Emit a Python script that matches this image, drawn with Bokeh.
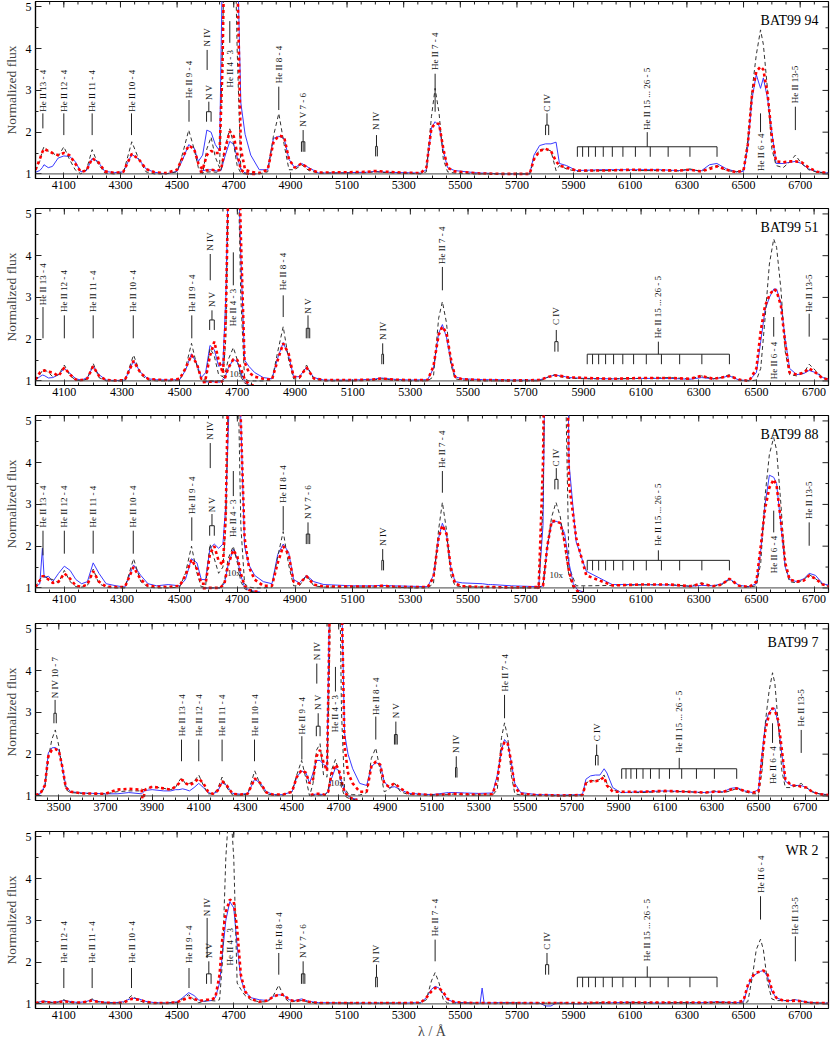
import math
from bokeh.plotting import figure
from bokeh.models import FixedTicker, Span, Label
from bokeh.layouts import column
from bokeh.embed import file_html
from bokeh.resources import INLINE
from bokeh.core.properties import value

FONT = "Liberation Serif"

# ---------------- wavelength grid (Angstrom) ----------------
WL = [4000, 4015, 4024, 4030, 4045, 4060, 4080, 4100, 4120, 4140, 4160, 4180,
      4200, 4220, 4245, 4280, 4310, 4340, 4365, 4390, 4420, 4460, 4500,
      4520, 4541, 4560, 4575, 4590, 4605, 4620, 4635, 4650, 4660, 4672, 4686, 4700, 4712, 4725, 4740, 4760,
      4790, 4820, 4840, 4859, 4878, 4895, 4915, 4940, 4965, 5000,
      5100, 5170, 5200, 5240, 5300, 5360, 5380, 5398, 5411, 5425, 5440, 5455, 5480,
      5550, 5570, 5577, 5584, 5650, 5745, 5760, 5780, 5801, 5820, 5838, 5850, 5875, 5910,
      6000, 6100, 6200, 6270, 6310, 6350, 6380, 6406, 6440, 6475, 6500,
      6515, 6530, 6545, 6560, 6570, 6585, 6600, 6615, 6640, 6665, 6683, 6705, 6730, 6760, 6800]
WL_UV = [3400, 3420, 3440, 3455, 3470, 3485, 3500, 3515, 3530, 3550,
         3600, 3700, 3750, 3800, 3855, 3860, 3870, 3900, 3950, 3980]

# ---------------- BAT99 94 ----------------
P1_OBS = [1.04, 1.08, 1.15, 1.22, 1.15, 1.18, 1.38, 1.43, 1.42, 1.30, 1.05, 1.08,
          1.37, 1.30, 1.06, 1.03, 1.05, 1.47, 1.35, 1.12, 1.04, 1.00, 1.06,
          1.35, 1.70, 1.62, 1.30, 1.45, 2.05, 2.00, 1.70, 1.55, 6.0, 9.0, 10.0, 9.0, 6.5, 2.7, 1.95, 1.45,
          1.10, 1.10, 1.85, 1.90, 1.85, 1.35, 1.15, 1.25, 1.15, 1.02,
          1.03, 1.04, 1.06, 1.04, 1.03, 1.02, 1.10, 2.10, 2.25, 2.15, 1.55, 1.15, 1.08,
          1.03, 1.02, 1.02, 1.02, 1.00, 1.00, 1.45, 1.68, 1.72, 1.72, 1.76, 1.25, 1.20, 1.08,
          1.10, 1.10, 1.10, 1.08, 1.10, 1.07, 1.22, 1.25, 1.12, 1.05, 1.06,
          1.65, 2.80, 3.38, 3.05, 3.30, 2.80, 2.00, 1.25, 1.25, 1.28, 1.30, 1.25, 1.12, 1.05, 1.02]
P1_MOD = [1.08, 1.30, 1.55, 1.65, 1.55, 1.50, 1.42, 1.65, 1.35, 1.10, 1.00, 1.10,
          1.58, 1.25, 1.02, 1.00, 1.02, 1.77, 1.35, 1.05, 1.00, 1.00, 1.05,
          1.50, 2.05, 1.60, 1.15, 1.00, 1.60, 1.88, 1.40, 1.15, 4.0, 8.0, 11.0, 8.0, 4.0, 1.10, 1.02, 1.00,
          1.00, 1.05, 1.90, 2.45, 1.70, 1.10, 1.10, 1.22, 1.08, 1.02,
          1.02, 1.03, 1.05, 1.03, 1.02, 1.00, 1.05, 2.37, 3.05, 2.45, 1.35, 1.05, 1.02,
          1.00, 1.00, 1.00, 1.00, 1.00, 1.00, 1.35, 1.58, 1.60, 1.55, 1.08, 1.20, 1.12, 1.06,
          1.08, 1.08, 1.08, 1.07, 1.12, 1.06, 1.15, 1.20, 1.08, 1.05, 1.10,
          1.80, 3.00, 3.85, 4.45, 4.10, 3.00, 1.60, 1.20, 1.15, 1.30, 1.45, 1.25, 1.10, 1.04, 1.02]
P1_MOD2 = [1.10, 1.35, 1.52, 1.60, 1.55, 1.50, 1.45, 1.50, 1.45, 1.25, 1.05, 1.08,
           1.37, 1.30, 1.06, 1.02, 1.05, 1.48, 1.35, 1.12, 1.04, 1.02, 1.10,
           1.40, 1.68, 1.60, 1.25, 1.10, 1.45, 1.55, 1.50, 1.50, 3.5, 8.5, 11.0, 9.5, 6.0, 1.60, 1.10, 1.05,
           1.02, 1.10, 1.75, 1.92, 1.88, 1.35, 1.15, 1.25, 1.12, 1.03,
           1.04, 1.05, 1.07, 1.05, 1.03, 1.02, 1.15, 2.10, 2.20, 2.20, 1.60, 1.15, 1.06,
           1.02, 1.01, 1.01, 1.01, 1.00, 1.00, 1.35, 1.55, 1.60, 1.55, 1.30, 1.20, 1.15, 1.08,
           1.08, 1.10, 1.09, 1.08, 1.10, 1.06, 1.12, 1.18, 1.10, 1.04, 1.08,
           1.70, 2.90, 3.45, 3.57, 3.50, 2.90, 1.90, 1.30, 1.28, 1.30, 1.30, 1.28, 1.15, 1.05, 1.02]

# ---------------- BAT99 51 ----------------
P2_OBS = [1.02, 1.10, 1.14, 1.13, 1.07, 1.08, 1.15, 1.30, 1.18, 1.05, 1.02, 1.08,
          1.35, 1.15, 1.02, 1.01, 1.02, 1.48, 1.20, 1.05, 1.03, 1.02, 1.03,
          1.25, 1.65, 1.40, 1.08, 1.20, 1.85, 1.75, 1.35, 1.40, 3.0, 7.0, 9.0, 7.0, 4.0, 1.50, 1.35, 1.20,
          1.08, 1.05, 1.55, 1.92, 1.60, 1.10, 1.10, 1.33, 1.08, 1.02,
          1.02, 1.04, 1.07, 1.04, 1.02, 1.03, 1.30, 2.14, 2.35, 2.05, 1.50, 1.10, 1.05,
          1.03, 1.03, 1.03, 1.03, 1.02, 1.02, 1.05, 1.10, 1.14, 1.12, 1.10, 1.08, 1.07, 1.06,
          1.05, 1.06, 1.06, 1.04, 1.08, 1.05, 1.08, 1.12, 1.02, 1.01, 1.20,
          1.95, 2.70, 3.00, 3.20, 3.20, 2.85, 2.00, 1.30, 1.15, 1.18, 1.25, 1.20, 1.08, 1.02, 1.02]
P2_MOD = [1.02, 1.15, 1.25, 1.28, 1.20, 1.10, 1.15, 1.38, 1.12, 1.02, 1.00, 1.05,
          1.42, 1.08, 1.00, 1.00, 1.00, 1.62, 1.15, 1.02, 1.00, 1.00, 1.02,
          1.30, 1.90, 1.35, 1.02, 1.05, 1.78, 1.60, 1.15, 1.10, 2.0, 7.0, 11.0, 7.0, 3.0, 1.05, 1.00, 1.00,
          1.00, 1.02, 1.70, 2.30, 1.50, 1.05, 1.05, 1.38, 1.05, 1.00,
          1.00, 1.02, 1.05, 1.02, 1.00, 1.00, 1.10, 2.50, 2.90, 2.40, 1.40, 1.05, 1.02,
          1.00, 1.00, 1.00, 1.00, 1.00, 1.00, 1.03, 1.10, 1.15, 1.10, 1.08, 1.06, 1.06, 1.05,
          1.05, 1.06, 1.08, 1.05, 1.12, 1.05, 1.08, 1.15, 1.02, 1.00, 1.02,
          1.30, 2.50, 3.80, 4.40, 4.20, 3.20, 1.70, 1.15, 1.12, 1.20, 1.40, 1.25, 1.08, 1.02, 1.02]
P2_MOD2 = [1.03, 1.20, 1.24, 1.25, 1.22, 1.20, 1.12, 1.32, 1.15, 1.03, 1.02, 1.06,
           1.35, 1.12, 1.02, 1.01, 1.02, 1.48, 1.18, 1.05, 1.03, 1.02, 1.05,
           1.30, 1.62, 1.40, 1.05, 1.05, 1.60, 1.94, 1.50, 1.18, 2.5, 7.0, 10.0, 8.0, 4.5, 1.45, 1.20, 1.10,
           1.05, 1.03, 1.50, 1.90, 1.65, 1.10, 1.08, 1.32, 1.06, 1.02,
           1.02, 1.03, 1.06, 1.03, 1.02, 1.02, 1.35, 2.10, 2.30, 2.15, 1.55, 1.10, 1.04,
           1.02, 1.02, 1.02, 1.02, 1.01, 1.02, 1.05, 1.10, 1.13, 1.12, 1.10, 1.08, 1.08, 1.07,
           1.05, 1.07, 1.07, 1.05, 1.12, 1.05, 1.08, 1.12, 1.03, 1.00, 1.30,
           2.20, 2.80, 3.05, 3.20, 3.15, 2.80, 1.90, 1.20, 1.15, 1.20, 1.30, 1.20, 1.06, 1.02, 1.02]

# ---------------- BAT99 88 ----------------
P3_OBS = [1.02, 1.10, 1.95, 1.25, 1.28, 1.15, 1.35, 1.52, 1.42, 1.20, 1.10, 1.15,
          1.60, 1.35, 1.10, 1.05, 1.02, 1.55, 1.30, 1.10, 1.05, 1.08, 1.05,
          1.20, 1.70, 1.60, 1.20, 1.20, 1.95, 2.05, 1.95, 2.05, 3.0, 5.5, 9.0, 8.0, 5.0, 2.00, 1.55, 1.30,
          1.15, 1.10, 1.80, 2.05, 1.85, 1.20, 1.12, 1.30, 1.15, 1.08,
          1.05, 1.05, 1.06, 1.05, 1.04, 1.03, 1.30, 2.20, 2.55, 2.30, 1.50, 1.15, 1.12,
          1.10, 1.08, 1.08, 1.08, 1.05, 1.03, 2.50, 14.0, 17.0, 16.0, 12.0, 4.00, 2.10, 1.40,
          1.08, 1.08, 1.07, 1.04, 1.06, 1.05, 1.10, 1.22, 1.06, 1.03, 1.10,
          1.90, 3.00, 3.70, 3.65, 3.50, 2.50, 1.50, 1.20, 1.15, 1.22, 1.35, 1.30, 1.10, 1.05, 1.05]
P3_MOD = [1.02, 1.20, 1.28, 1.28, 1.22, 1.20, 1.12, 1.42, 1.15, 1.03, 1.02, 1.05,
          1.45, 1.10, 1.02, 1.00, 1.00, 1.70, 1.15, 1.02, 1.00, 1.00, 1.02,
          1.35, 2.00, 1.35, 1.02, 1.05, 2.05, 1.70, 1.35, 1.50, 2.5, 7.0, 11.0, 7.0, 2.5, 1.10, 1.02, 1.00,
          1.00, 1.02, 1.75, 2.35, 1.55, 1.05, 1.05, 1.30, 1.05, 1.02,
          1.02, 1.02, 1.04, 1.02, 1.00, 1.00, 1.10, 2.40, 3.05, 2.40, 1.30, 1.05, 1.03,
          1.02, 1.02, 1.02, 1.02, 1.00, 1.00, 3.00, 14.0, 20.0, 16.0, 6.0, 1.50, 1.05, 1.05,
          1.06, 1.07, 1.08, 1.04, 1.12, 1.04, 1.08, 1.20, 1.05, 1.02, 1.05,
          1.60, 3.20, 4.20, 4.60, 4.30, 3.00, 1.50, 1.15, 1.12, 1.20, 1.32, 1.22, 1.08, 1.02, 1.02]
P3_MOD2 = [1.02, 1.18, 1.28, 1.28, 1.20, 1.12, 1.15, 1.35, 1.22, 1.05, 1.03, 1.08,
           1.40, 1.15, 1.03, 1.02, 1.02, 1.50, 1.20, 1.05, 1.03, 1.02, 1.05,
           1.30, 1.68, 1.45, 1.10, 1.10, 1.82, 2.00, 1.65, 1.55, 2.8, 7.5, 10.5, 8.5, 5.0, 2.20, 1.50, 1.20,
           1.05, 1.05, 1.60, 2.00, 1.80, 1.15, 1.10, 1.28, 1.08, 1.03,
           1.03, 1.03, 1.05, 1.03, 1.02, 1.02, 1.25, 2.20, 2.50, 2.30, 1.50, 1.10, 1.04,
           1.02, 1.02, 1.02, 1.02, 1.01, 1.02, 4.00, 15.0, 17.0, 16.0, 10.0, 3.50, 2.20, 1.30,
           1.06, 1.08, 1.08, 1.04, 1.10, 1.04, 1.08, 1.22, 1.05, 1.02, 1.15,
           2.00, 2.90, 3.40, 3.60, 3.45, 2.60, 1.60, 1.20, 1.15, 1.18, 1.30, 1.22, 1.08, 1.03, 1.03]

# ---------------- BAT99 7 (extends into the near UV) ----------------
P4_OBS_UV = [1.04, 1.05, 1.24, 2.03, 2.15, 2.16, 2.10, 1.71, 1.24, 1.10,
             1.07, 1.05, 1.05, 1.08, 1.05, 1.08, 1.13, 1.15, 1.12, 1.12]
P4_MOD_UV = [1.02, 1.04, 1.20, 1.90, 2.35, 2.58, 2.20, 1.60, 1.15, 1.08,
             1.06, 1.05, 1.10, 1.12, 1.12, 1.15, 1.15, 1.22, 1.18, 1.15]
P4_MOD2_UV = [1.02, 1.05, 1.25, 1.95, 2.10, 2.12, 2.08, 1.70, 1.20, 1.10,
              1.06, 1.05, 1.15, 1.17, 1.15, 0.85, 1.15, 1.22, 1.18, 1.15]
P4_OBS = [1.15, 1.15, 1.16, 1.17, 1.15, 1.12, 1.20, 1.30, 1.20, 1.08, 1.05, 1.10,
          1.32, 1.25, 1.06, 1.04, 1.06, 1.40, 1.30, 1.10, 1.03, 1.03, 1.10,
          1.45, 1.60, 1.55, 1.30, 1.55, 1.85, 1.85, 1.75, 1.70, 5.5, 9.0, 10.0, 9.0, 6.0, 2.50, 2.00, 1.65,
          1.30, 1.25, 1.70, 1.80, 1.75, 1.35, 1.20, 1.22, 1.15, 1.06,
          1.03, 1.08, 1.08, 1.07, 1.06, 1.07, 1.50, 2.10, 2.35, 2.25, 1.80, 1.30, 1.08,
          1.03, 1.03, 1.03, 1.03, 1.02, 1.03, 1.40, 1.48, 1.50, 1.50, 1.65, 1.55, 1.20, 1.08,
          1.10, 1.12, 1.10, 1.08, 1.10, 1.10, 1.18, 1.20, 1.12, 1.08, 1.15,
          2.00, 2.75, 3.00, 3.10, 3.10, 2.70, 2.00, 1.35, 1.25, 1.25, 1.25, 1.20, 1.10, 1.05, 1.03]
P4_MOD = [1.20, 1.35, 1.42, 1.40, 1.28, 1.30, 1.35, 1.50, 1.25, 1.05, 1.05, 1.15,
          1.45, 1.20, 1.02, 1.02, 1.05, 1.60, 1.25, 1.05, 1.02, 1.02, 1.10,
          1.50, 1.85, 1.40, 1.00, 1.30, 2.10, 2.25, 1.50, 1.45, 4.0, 9.0, 12.0, 8.0, 3.0, 1.20, 1.05, 1.03,
          1.02, 1.08, 1.90, 2.15, 1.60, 1.10, 1.15, 1.30, 1.10, 1.03,
          1.02, 1.03, 1.05, 1.03, 1.02, 1.02, 1.15, 2.40, 2.75, 2.40, 1.50, 1.05, 1.02,
          1.01, 1.01, 1.01, 1.01, 1.00, 1.02, 1.30, 1.38, 1.35, 1.40, 1.50, 1.30, 1.15, 1.08,
          1.08, 1.10, 1.10, 1.07, 1.12, 1.08, 1.12, 1.18, 1.10, 1.05, 1.05,
          1.60, 2.80, 3.50, 3.95, 3.70, 2.70, 1.60, 1.20, 1.20, 1.25, 1.30, 1.20, 1.10, 1.05, 1.02]
P4_MOD2 = [1.22, 1.30, 1.38, 1.38, 1.30, 1.25, 1.32, 1.42, 1.30, 1.10, 1.05, 1.12,
           1.35, 1.25, 1.05, 1.03, 1.05, 1.42, 1.30, 1.08, 1.03, 1.03, 1.10,
           1.45, 1.62, 1.55, 1.30, 1.40, 1.95, 2.10, 1.80, 1.60, 5.0, 9.0, 11.0, 9.0, 6.0, 2.20, 1.55, 1.30,
           1.10, 1.10, 1.70, 1.82, 1.75, 1.30, 1.22, 1.30, 1.18, 1.06,
           1.02, 1.04, 1.05, 1.04, 1.03, 1.04, 1.40, 2.10, 2.30, 2.25, 1.80, 1.20, 1.05,
           1.02, 1.02, 1.02, 1.02, 1.01, 1.02, 1.30, 1.35, 1.35, 1.38, 1.45, 1.25, 1.10, 1.10,
           1.10, 1.12, 1.10, 1.08, 1.10, 1.10, 1.15, 1.18, 1.12, 1.08, 1.10,
           1.90, 2.60, 2.95, 3.10, 3.05, 2.80, 2.10, 1.40, 1.25, 1.25, 1.22, 1.20, 1.10, 1.04, 1.02]

# ---------------- WR 2 ----------------
P5_OBS = [1.03, 1.05, 1.06, 1.07, 1.05, 1.04, 1.05, 1.08, 1.06, 1.04, 1.04, 1.06,
          1.10, 1.06, 1.04, 1.03, 1.05, 1.14, 1.12, 1.06, 1.03, 1.02, 1.05,
          1.15, 1.27, 1.20, 1.10, 1.06, 1.07, 1.08, 1.15, 1.50, 2.20, 3.00, 3.45, 3.30, 2.40, 1.60, 1.30, 1.15,
          1.10, 1.08, 1.18, 1.22, 1.20, 1.10, 1.08, 1.12, 1.06, 1.03,
          1.02, 1.02, 1.02, 1.02, 1.02, 1.03, 1.15, 1.35, 1.42, 1.38, 1.25, 1.10, 1.04,
          1.02, 1.02, 1.38, 1.02, 1.03, 1.02, 1.02, 1.02, 0.95, 0.95, 1.02, 1.02, 1.02, 1.00,
          1.02, 1.04, 1.02, 1.03, 1.03, 1.03, 1.04, 1.05, 1.04, 1.03, 1.05,
          1.40, 1.65, 1.72, 1.78, 1.80, 1.65, 1.30, 1.15, 1.08, 1.08, 1.10, 1.07, 1.04, 1.02, 1.02]
P5_MOD = [1.02, 1.04, 1.05, 1.05, 1.04, 1.03, 1.04, 1.10, 1.04, 1.02, 1.02, 1.05,
          1.12, 1.05, 1.02, 1.02, 1.03, 1.20, 1.08, 1.02, 1.02, 1.02, 1.03,
          1.12, 1.22, 1.10, 1.03, 1.05, 1.08, 1.08, 1.07, 1.10, 2.00, 4.50, 6.00, 4.50, 1.50, 1.35, 1.20, 1.10,
          1.05, 1.05, 1.20, 1.45, 1.15, 1.05, 1.06, 1.08, 1.04, 1.02,
          1.02, 1.02, 1.02, 1.02, 1.02, 1.02, 1.10, 1.55, 1.75, 1.50, 1.10, 1.02, 1.02,
          1.02, 1.02, 1.02, 1.02, 1.02, 1.02, 1.02, 1.02, 1.02, 1.02, 1.02, 1.02, 1.02, 1.02,
          1.03, 1.03, 1.03, 1.03, 1.03, 1.03, 1.03, 1.03, 1.03, 1.02, 1.02,
          1.05, 1.60, 2.30, 2.55, 2.30, 1.50, 1.12, 1.08, 1.08, 1.08, 1.10, 1.06, 1.03, 1.02, 1.02]
P5_MOD2 = [1.02, 1.04, 1.05, 1.05, 1.04, 1.03, 1.04, 1.06, 1.05, 1.03, 1.03, 1.05,
           1.08, 1.05, 1.03, 1.02, 1.03, 1.12, 1.10, 1.05, 1.02, 1.02, 1.04,
           1.10, 1.15, 1.12, 1.08, 1.08, 1.10, 1.10, 1.15, 1.70, 2.60, 3.20, 3.50, 3.45, 2.80, 1.70, 1.30, 1.12,
           1.05, 1.08, 1.18, 1.22, 1.22, 1.10, 1.06, 1.10, 1.05, 1.02,
           1.02, 1.02, 1.02, 1.02, 1.02, 1.03, 1.15, 1.30, 1.38, 1.38, 1.28, 1.12, 1.04,
           1.02, 1.02, 1.02, 1.02, 1.02, 1.02, 1.02, 1.02, 1.02, 1.02, 1.02, 1.02, 1.02, 1.02,
           1.03, 1.03, 1.03, 1.03, 1.03, 1.03, 1.03, 1.04, 1.03, 1.03, 1.08,
           1.45, 1.65, 1.75, 1.78, 1.80, 1.70, 1.35, 1.15, 1.08, 1.07, 1.08, 1.06, 1.03, 1.02, 1.02]

# ---------------- strong lines scaled down by 10 ("10x") ----------------
TEN_WL = [4580, 4600, 4620, 4640, 4655, 4668, 4686, 4700, 4712, 4725, 4740, 4760, 4780]
P1_TEN_OBS = [1.06, 1.09, 1.10, 1.07, 1.08, 1.40, 1.78, 1.70, 1.40, 1.12, 1.02, 1.00, 1.00]
P1_TEN_MOD = [1.02, 1.04, 1.05, 1.04, 1.10, 1.60, 2.08, 1.70, 1.20, 1.02, 1.00, 1.00, 1.00]
P1_TEN_MOD2 = [1.05, 1.08, 1.10, 1.08, 1.10, 1.55, 2.02, 1.90, 1.50, 1.10, 1.02, 1.00, 1.00]
P2_TEN_OBS = [0.97, 0.98, 0.98, 0.97, 1.05, 1.30, 1.52, 1.45, 1.20, 1.00, 0.90, 0.86, 0.86]
P2_TEN_MOD = [0.99, 1.00, 1.00, 1.00, 1.10, 1.50, 1.80, 1.50, 1.10, 0.95, 0.90, 0.88, 0.86]
P2_TEN_MOD2 = [0.97, 0.98, 0.98, 0.97, 1.02, 1.30, 1.52, 1.50, 1.30, 1.05, 0.92, 0.88, 0.86]
P3_TEN_OBS = [0.98, 1.00, 1.00, 1.00, 1.10, 1.55, 1.93, 1.70, 1.30, 1.02, 0.95, 0.92, 0.90]
P3_TEN_MOD = [1.00, 1.00, 1.00, 1.00, 1.15, 1.70, 2.00, 1.60, 1.15, 0.98, 0.93, 0.90, 0.88]
P3_TEN_MOD2 = [0.99, 1.00, 1.00, 1.00, 1.10, 1.55, 1.91, 1.75, 1.35, 1.05, 0.95, 0.92, 0.90]
P4_TEN_OBS = [1.03, 1.04, 1.04, 1.03, 1.10, 1.40, 1.67, 1.60, 1.35, 1.12, 1.00, 0.94, 0.92]
P4_TEN_MOD = [1.00, 1.02, 1.02, 1.00, 1.15, 1.60, 1.87, 1.60, 1.20, 1.00, 0.95, 0.92, 0.90]
P4_TEN_MOD2 = [1.02, 1.05, 1.05, 1.03, 1.10, 1.50, 1.75, 1.65, 1.35, 1.10, 0.98, 0.93, 0.90]
CIV_TEN_WL = [5740, 5760, 5775, 5790, 5805, 5820, 5835, 5850, 5865, 5880, 5900]
P3_CIV_OBS = [1.00, 1.05, 2.00, 2.55, 2.60, 2.55, 2.30, 1.60, 1.10, 0.95, 0.90]
P3_CIV_MOD = [1.00, 1.05, 2.00, 2.70, 3.05, 2.70, 2.00, 1.30, 1.00, 0.90, 0.88]
P3_CIV_MOD2 = [1.00, 1.05, 2.00, 2.60, 2.60, 2.55, 2.10, 1.40, 1.05, 0.92, 0.88]

# ---------------- line identifications ----------------
PICKERING = [5913.3, 5931.8, 5952.9, 5977.0, 6004.7, 6036.7, 6074.1, 6118.2,
             6170.6, 6233.8, 6310.8, 6406.4]
FORK_PRONGS = {4612: [4604, 4620], 4945: [4939, 4945, 4951], 5204: [5201, 5207],
               5806: [5801, 5812], 3484: [3479, 3489]}
SERIES = "He II 15 ... 26 - 5"

# (text, wavelength, kind, marker bottom, marker top, text anchor)
P1_LABELS = [("He II 13 - 4", 4026, "up", 2.09, 2.45, 2.49), ("He II 12 - 4", 4100, "up", 1.93, 2.45, 2.49),
             ("He II 11 - 4", 4200, "up", 1.93, 2.45, 2.49), ("He II 10 - 4", 4339, "up", 1.93, 2.45, 2.49),
             ("He II 9 - 4", 4542, "up", 2.25, 2.77, 2.81), ("N V", 4612, "fork", 2.25, 2.73, 2.77),
             ("N IV", 4606, "up", 3.49, 3.97, 4.05), ("He II 4 - 3", 4686, "down", 4.14, 4.66, 3.97),
             ("He II 8 - 4", 4859, "up", 2.53, 3.09, 3.17), ("N V 7 - 6", 4945, "fork", 1.53, 2.05, 2.13),
             ("N IV", 5204, "fork", 1.42, 1.93, 2.05), ("He II 7 - 4", 5411, "up", 2.49, 3.40, 3.49),
             ("C IV", 5806, "fork", 1.93, 2.45, 2.49), (SERIES, 6160, "series", 1.41, 2.00, 2.05),
             ("He II 6 - 4", 6560, "down", 2.00, 2.45, 1.97), ("He II 13-5", 6683, "up", 2.05, 2.61, 2.69)]
P2_LABELS = [("He II 13 - 4", 4026, "up", 2.02, 2.77, 2.81), ("He II 12 - 4", 4100, "up", 2.02, 2.57, 2.65),
             ("He II 11 - 4", 4200, "up", 2.02, 2.57, 2.65), ("He II 10 - 4", 4339, "up", 2.02, 2.57, 2.65),
             ("He II 9 - 4", 4542, "up", 2.02, 2.57, 2.65), ("N V", 4612, "fork", 2.22, 2.69, 2.77),
             ("N IV", 4606, "up", 3.41, 4.04, 4.12), ("He II 4 - 3", 4686, "down", 3.29, 4.08, 3.21),
             ("He II 8 - 4", 4859, "up", 2.53, 3.05, 3.17), ("N V", 4945, "fork", 2.02, 2.57, 2.61),
             ("N IV", 5204, "fork", 1.40, 1.90, 1.98), ("He II 7 - 4", 5411, "up", 3.17, 3.73, 3.80),
             ("C IV", 5806, "fork", 1.70, 2.22, 2.34), (SERIES, 6160, "series", 1.40, 1.94, 2.02),
             ("He II 6 - 4", 6560, "down", 2.06, 2.53, 1.94), ("He II 13-5", 6683, "up", 2.06, 2.61, 2.65)]
P3_LABELS = [("He II 13 - 4", 4026, "up", 1.78, 2.37, 2.45), ("He II 12 - 4", 4100, "up", 1.82, 2.37, 2.45),
             ("He II 11 - 4", 4200, "up", 1.82, 2.37, 2.45), ("He II 10 - 4", 4339, "up", 1.82, 2.37, 2.45),
             ("He II 9 - 4", 4542, "up", 2.13, 2.69, 2.77), ("N V", 4612, "fork", 2.25, 2.77, 2.81),
             ("N IV", 4606, "up", 3.87, 4.47, 4.55), ("He II 4 - 3", 4686, "down", 3.20, 3.80, 3.12),
             ("He II 8 - 4", 4859, "up", 2.37, 2.96, 3.04), ("N V 7 - 6", 4945, "fork", 2.05, 2.57, 2.65),
             ("N IV", 5204, "fork", 1.42, 1.93, 2.01), ("He II 7 - 4", 5411, "up", 3.28, 3.80, 3.87),
             ("C IV", 5806, "fork", 3.36, 3.87, 3.91), (SERIES, 6160, "series", 1.42, 1.90, 2.01),
             ("He II 6 - 4", 6560, "down", 2.33, 2.85, 2.25), ("He II 13-5", 6683, "up", 2.01, 2.57, 2.65)]
P4_LABELS = [("N IV 10 - 7", 3484, "fork", 2.74, 3.30, 3.34),
             ("He II 13 - 4", 4026, "up", 1.83, 2.35, 2.43), ("He II 12 - 4", 4100, "up", 1.83, 2.35, 2.43),
             ("He II 11 - 4", 4200, "up", 1.83, 2.35, 2.43), ("He II 10 - 4", 4339, "up", 1.83, 2.35, 2.43),
             ("He II 9 - 4", 4542, "up", 1.87, 2.43, 2.47), ("N V", 4612, "fork", 2.43, 2.98, 3.06),
             ("N IV", 4606, "up", 3.69, 4.17, 4.25), ("He II 4 - 3", 4686, "down", 3.50, 4.09, 3.42),
             ("He II 8 - 4", 4859, "up", 2.35, 2.90, 2.94), ("N V", 4945, "fork", 2.23, 2.78, 2.86),
             ("N IV", 5204, "fork", 1.44, 1.95, 2.03), ("He II 7 - 4", 5411, "up", 2.86, 3.42, 3.50),
             ("C IV", 5806, "fork", 1.73, 2.23, 2.31), (SERIES, 6160, "series", 1.41, 1.91, 2.03),
             ("He II 6 - 4", 6560, "down", 2.27, 2.74, 2.19), ("He II 13-5", 6683, "up", 2.03, 2.58, 2.66)]
P5_LABELS = [("He II 12 - 4", 4100, "up", 1.38, 1.86, 1.98), ("He II 11 - 4", 4200, "up", 1.38, 1.86, 1.98),
             ("He II 10 - 4", 4339, "up", 1.38, 1.86, 1.98), ("He II 9 - 4", 4542, "up", 1.38, 1.86, 1.98),
             ("N V", 4612, "fork", 1.48, 2.02, 2.10), ("N IV", 4606, "up", 2.10, 3.06, 3.10),
             ("He II 4 - 3", 4686, "down", 2.90, 2.90, 2.82), ("He II 8 - 4", 4859, "up", 1.70, 2.22, 2.30),
             ("N V 7 - 6", 4945, "fork", 1.48, 2.02, 2.10), ("N IV", 5204, "fork", 1.40, 1.94, 1.98),
             ("He II 7 - 4", 5411, "up", 2.02, 2.54, 2.62), ("C IV", 5806, "fork", 1.70, 2.22, 2.30),
             (SERIES, 6160, "series", 1.40, 1.90, 2.02), ("He II 6 - 4", 6560, "up", 3.02, 3.58, 3.66),
             ("He II 13-5", 6683, "up", 2.02, 2.62, 2.66)]

TICKS_4000 = list(range(4100, 6701, 200))
TICKS_3400 = list(range(3500, 6701, 200))
Y_TICKS = [1, 2, 3, 4, 5]
Y_MINOR = [1.5, 2.5, 3.5, 4.5]

PANELS = [
    dict(name="BAT99 94", wl=WL, obs=P1_OBS, mod=P1_MOD, mod2=P1_MOD2, xr=(4000, 6800), ticks=TICKS_4000,
         tenx=[(TEN_WL, P1_TEN_OBS, P1_TEN_MOD, P1_TEN_MOD2)], tenx_text=[], labels=P1_LABELS),
    dict(name="BAT99 51", wl=WL, obs=P2_OBS, mod=P2_MOD, mod2=P2_MOD2, xr=(4000, 6750), ticks=TICKS_4000,
         tenx=[(TEN_WL, P2_TEN_OBS, P2_TEN_MOD, P2_TEN_MOD2)], tenx_text=[(4696, 1.17)], labels=P2_LABELS),
    dict(name="BAT99 88", wl=WL, obs=P3_OBS, mod=P3_MOD, mod2=P3_MOD2, xr=(4000, 6750), ticks=TICKS_4000,
         tenx=[(TEN_WL, P3_TEN_OBS, P3_TEN_MOD, P3_TEN_MOD2), (CIV_TEN_WL, P3_CIV_OBS, P3_CIV_MOD, P3_CIV_MOD2)],
         tenx_text=[(4688, 1.36), (5806, 1.30)], labels=P3_LABELS),
    dict(name="BAT99 7", wl=WL_UV + WL, obs=P4_OBS_UV + P4_OBS, mod=P4_MOD_UV + P4_MOD, mod2=P4_MOD2_UV + P4_MOD2,
         xr=(3400, 6800), ticks=TICKS_3400,
         tenx=[(TEN_WL, P4_TEN_OBS, P4_TEN_MOD, P4_TEN_MOD2)], tenx_text=[(4693, 1.30)], labels=P4_LABELS),
    dict(name="WR 2", wl=WL, obs=P5_OBS, mod=P5_MOD, mod2=P5_MOD2, xr=(4000, 6800), ticks=TICKS_4000,
         tenx=[], tenx_text=[], labels=P5_LABELS),
]

for i, cfg in enumerate(PANELS):
    for key in ("obs", "mod", "mod2"):
        if len(cfg[key]) != len(cfg["wl"]):
            raise ValueError("panel %d %s: %d values for %d wavelengths" % (i + 1, key, len(cfg[key]), len(cfg["wl"])))

BLUE = "#3a3aff"
DASH = "#333333"
RED = "#ff0000"
YR = (0.89, 5.13)
FRAME_W = 795
FRAME_H = 177
BOTTOMS = [29, 29, 30, 30, 36]
TICK_COLOR = "#222222"


def draw_spectrum(p, wl, obs, mod, mod2):
    p.line(wl, obs, line_color=BLUE, line_width=1)
    p.line(wl, mod, line_color=DASH, line_width=1, line_dash="4 3")
    p.line(wl, mod2, line_color=RED, line_width=2.6, line_dash="3 3")


def build(cfg, idx):
    last = idx == len(PANELS) - 1
    top = 1
    bottom = BOTTOMS[idx]
    x0, x1 = cfg["xr"]
    p = figure(width=33 + FRAME_W + 2, height=top + FRAME_H + bottom, x_range=(x0, x1), y_range=YR,
               output_backend="svg", toolbar_location=None,
               min_border_left=33, min_border_right=2, min_border_top=top, min_border_bottom=bottom)
    p.grid.visible = False
    p.outline_line_color = "black"
    p.outline_line_width = 1.2
    p.background_fill_color = "white"
    p.border_fill_color = "white"

    minor_x = list(range(x0, x1 + 1, 50))
    xt = FixedTicker(ticks=cfg["ticks"], minor_ticks=minor_x)
    yt = FixedTicker(ticks=Y_TICKS, minor_ticks=Y_MINOR)

    for ax, tk in ((p.xaxis[0], xt), (p.yaxis[0], yt)):
        ax.ticker = tk
        ax.major_tick_in = 6
        ax.major_tick_out = 0
        ax.minor_tick_in = 3
        ax.minor_tick_out = 0
        ax.axis_line_color = "black"
        ax.axis_line_width = 1.2
        ax.major_tick_line_color = TICK_COLOR
        ax.minor_tick_line_color = TICK_COLOR
        ax.major_label_text_font = FONT
        ax.major_label_text_font_size = "12px"
        ax.major_label_text_color = "black"
    p.xaxis[0].major_label_standoff = 2
    p.yaxis[0].major_label_standoff = 4
    p.yaxis[0].axis_label = "Normalized flux"
    p.yaxis[0].axis_label_text_font = FONT
    p.yaxis[0].axis_label_text_font_size = "13.5px"
    p.yaxis[0].axis_label_text_font_style = "normal"
    p.yaxis[0].axis_label_standoff = 4
    if last:
        p.xaxis[0].axis_label = "λ / Å"
        p.xaxis[0].axis_label_text_font = FONT
        p.xaxis[0].axis_label_text_font_size = "14px"
        p.xaxis[0].axis_label_text_font_style = "normal"
        p.xaxis[0].axis_label_standoff = 2

    # inward ticks on the top and right edges of the frame
    ppx = FRAME_W / float(x1 - x0)
    ppy = FRAME_H / float(YR[1] - YR[0])
    tx0, ty0, tx1, ty1 = [], [], [], []
    for xs, ln in ((cfg["ticks"], 6), (minor_x, 3)):
        for xv in xs:
            tx0.append(xv); ty0.append(YR[1]); tx1.append(xv); ty1.append(YR[1] - ln / ppy)
    for ys, ln in ((Y_TICKS, 6), (Y_MINOR, 3)):
        for yv in ys:
            tx0.append(x1); ty0.append(yv); tx1.append(x1 - ln / ppx); ty1.append(yv)
    p.segment(x0=tx0, y0=ty0, x1=tx1, y1=ty1, line_color=TICK_COLOR, line_width=1)

    p.add_layout(Span(location=1, dimension="width", line_color="#444444", line_width=1))

    draw_spectrum(p, cfg["wl"], cfg["obs"], cfg["mod"], cfg["mod2"])
    for (twl, tobs, tmod, tmod2) in cfg["tenx"]:
        draw_spectrum(p, twl, tobs, tmod, tmod2)
    if cfg["tenx_text"]:
        p.text(x=[t[0] for t in cfg["tenx_text"]], y=[t[1] for t in cfg["tenx_text"]],
               text=["10x"] * len(cfg["tenx_text"]), text_align="center", text_baseline="middle",
               text_font=value(FONT), text_font_size="9px", text_color="#222222")

    # line identification markers
    sx0, sy0, sx1, sy1 = [], [], [], []
    ux, uy, ut, dx, dy, dt = [], [], [], [], [], []

    def seg(a, b, c, d):
        sx0.append(a); sy0.append(b); sx1.append(c); sy1.append(d)

    for (txt, lam, kind, ya, yb, ytxt) in cfg["labels"]:
        if kind in ("up", "down"):
            if yb > ya:
                seg(lam, ya, lam, yb)
        else:
            prongs = PICKERING if kind == "series" else FORK_PRONGS[lam]
            yf = ya + 0.24
            for pr in prongs:
                seg(pr, ya, pr, yf)
            seg(min(prongs), yf, max(prongs), yf)
            seg(lam, yf, lam, yb)
        if kind == "down":
            dx.append(lam); dy.append(ytxt); dt.append(txt)
        else:
            ux.append(lam); uy.append(ytxt); ut.append(txt)

    p.segment(x0=sx0, y0=sy0, x1=sx1, y1=sy1, line_color="#222222", line_width=1)
    common = dict(angle=math.pi / 2, text_baseline="middle", text_font=value(FONT),
                  text_font_size="9px", text_color="#111111")
    p.text(x=ux, y=uy, text=ut, text_align="left", **common)
    if dt:
        p.text(x=dx, y=dy, text=dt, text_align="right", **common)

    p.add_layout(Label(x=x1 - (x1 - x0) * 10.0 / FRAME_W, y=YR[1] - 0.27, text=cfg["name"],
                       text_align="right", text_baseline="top", text_font=FONT,
                       text_font_size="14px", text_color="black"))
    return p


figs = [build(cfg, i) for i, cfg in enumerate(PANELS)]
layout = column(*figs)
open("out.html", "w").write(file_html(layout, INLINE, title="Spectra"))
